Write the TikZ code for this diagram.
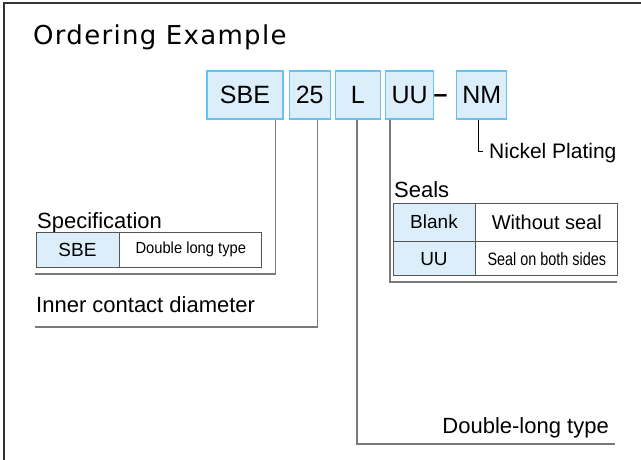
\documentclass[tikz,border=0pt]{standalone}
\usepackage{fontspec}
\setmainfont{Liberation Sans}
\newfontfamily\titlefont[LetterSpace=5]{DejaVu Sans}
\usetikzlibrary{positioning}
\definecolor{boxfill}{HTML}{DDEEFB}
\definecolor{boxline}{HTML}{66C2EE}
\definecolor{leadgray}{HTML}{7A7A7A}
\definecolor{cellline}{HTML}{555555}
\tikzset{
  codebox/.style={draw=boxline,fill=boxfill,line width=1.2pt,minimum height=48pt,inner sep=0pt,font=\fontsize{25}{25}\selectfont},
  leader/.style={draw=leadgray,line width=1.3pt},
  label/.style={anchor=base west,inner sep=0pt,font=\fontsize{22}{22}\selectfont},
  keycell/.style={draw=cellline,fill=boxfill,line width=0.8pt,inner sep=0pt,font=\fontsize{19}{19}\selectfont},
  valcell/.style={draw=cellline,fill=white,line width=0.8pt,inner sep=0pt}
}
\begin{document}
\begin{tikzpicture}[x=1pt,y=-1pt]
  \useasboundingbox (0,0) rectangle (641,460);
  \draw[line width=1.3pt,black!80] (4,3) rectangle (660,480);
  \node[anchor=base west,inner sep=0pt,font=\titlefont\fontsize{26}{26}\selectfont] (title) at (33,45) {Ordering Example};
  % code boxes
  \node[codebox,minimum width=76pt] (sbe) at (245,95) {SBE};
  \node[codebox,minimum width=41pt,right=5pt of sbe] (dia) {25};
  \node[codebox,minimum width=45pt,right=4pt of dia] (len) {L};
  \node[codebox,minimum width=48pt,right=4pt of len] (seal) {UU};
  \node[codebox,minimum width=50pt,right=22pt of seal] (plat) {NM};
  \node[inner sep=0pt,font=\bfseries\fontsize{25}{25}\selectfont] (dash) at (440.5,99) {--};
  % end points of the leaders
  \coordinate (sbe-end) at (35,274);
  \coordinate (dia-end) at (35,327);
  \coordinate (len-end) at (615,444);
  \coordinate (seal-end) at (617,282);
  \coordinate (plat-end) at (483,151);
  \draw[leader] ([xshift=-8pt]sbe.south east) |- (sbe-end);
  \draw[leader] ([xshift=-13pt]dia.south east) |- (dia-end);
  \draw[leader] ([xshift=-1pt]len.south) |- (len-end);
  \draw[leader] ([xshift=5pt]seal.south west) |- (seal-end);
  \draw[black,line width=0.8pt] ([xshift=-3pt]plat.south) |- (plat-end);
  % labels
  \node[label,font=\fontsize{21}{21}\selectfont] (plating) at (489,159) {Nickel Plating};
  \node[label] (spec) at (37,228) {Specification};
  \node[label] (diam) at (36,312) {Inner contact diameter};
  \node[label] (seals) at (394,197) {Seals};
  \node[label,anchor=base east] (dbl) at (609,433) {Double-long type};
  % specification table
  \node[keycell,minimum width=83pt,minimum height=35pt] (spec-k) at (77.5,249.5) {SBE};
  \node[valcell,minimum width=142pt,minimum height=35pt,right=0pt of spec-k,font=\fontsize{16}{16}\selectfont] (spec-v) {\scalebox{0.92}[1]{Double long type}};
  % seals table
  \node[keycell,minimum width=82pt,minimum height=38pt] (blank-k) at (434,222) {Blank};
  \node[valcell,minimum width=142pt,minimum height=38pt,right=0pt of blank-k,font=\fontsize{20}{20}\selectfont] (blank-v) {Without seal};
  \node[keycell,minimum width=82pt,minimum height=34pt,below=0pt of blank-k] (uu-k) {UU};
  \node[valcell,minimum width=142pt,minimum height=34pt,right=0pt of uu-k,font=\fontsize{18}{18}\selectfont] (uu-v) {\scalebox{0.8}[1]{Seal on both sides}};
\end{tikzpicture}
\end{document}
